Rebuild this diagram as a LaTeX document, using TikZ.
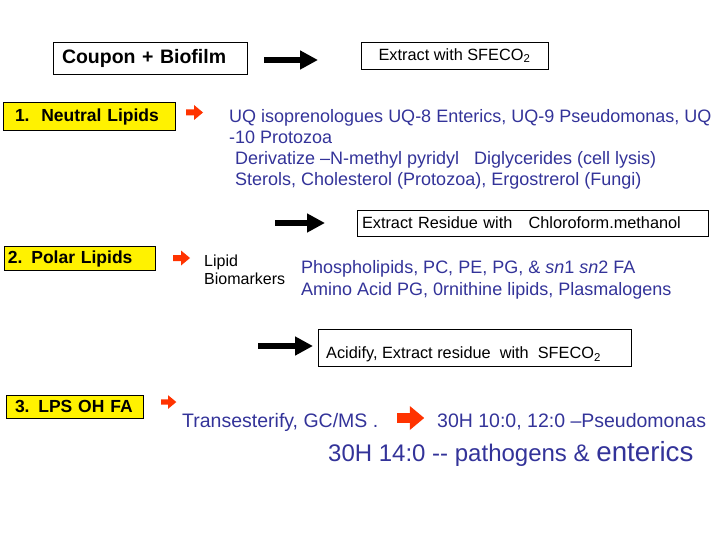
\documentclass[tikz,border=0pt]{standalone}
\usepackage{fontspec}
\setmainfont{Liberation Sans}
\usepackage{xcolor}
\usetikzlibrary{arrows.meta,positioning}

\definecolor{slideblue}{RGB}{51,51,153}
\definecolor{slidered}{RGB}{255,51,0}

\tikzset{
  stepbox/.style={draw, rectangle, fill=white, line width=0.8pt, inner ysep=0pt, align=left, font=\fontsize{16.3}{18}\selectfont},
  lipidbox/.style={draw, rectangle, fill=yellow, line width=0.8pt, inner ysep=0pt, align=left, font=\bfseries\fontsize{17.5}{20}\selectfont},
  bigarrow/.style={line width=6pt, -{Triangle[length=18pt,width=18pt]}},
  bluetext/.style={text=slideblue, inner sep=0pt, anchor=base west, font=\fontsize{18}{21}\selectfont},
  plaintext/.style={inner sep=0pt, anchor=base west, font=\fontsize{16}{18}\selectfont},
  redarr/.pic={\fill[slidered] (0,-3) -- (8,-3) -- (8,-7.5) -- (17,0) -- (8,7.5) -- (8,3) -- (0,3) -- cycle;}
}

\begin{document}
\begin{tikzpicture}[x=1pt, y=-1pt]
    \useasboundingbox (0,0) rectangle (720,540);

    % extraction steps
    \node[stepbox, font=\bfseries\fontsize{19.5}{22}\selectfont, text width=176pt, inner xsep=9pt, minimum height=32pt] (coupon) at (150,58) {Coupon + Biofilm};
    \node[stepbox, minimum width=187pt, minimum height=27pt] (sfe) at (454.5,55.5) {Extract with SFECO\textsubscript{2}};
    \node[stepbox, text width=341pt, inner xsep=5pt, minimum height=26pt] (residue) at (532.5,223) {Extract Residue with\ \ \ Chloroform.methanol};
    \node[stepbox, minimum width=313pt, minimum height=37pt] (acidify) at (474.5,347.5) {};
    \node[plaintext, font=\fontsize{16.3}{18}\selectfont] (acidtext) at (326,358.5) {Acidify, Extract residue\ \ with\ \ SFECO\textsubscript{2}};

    % lipid classes
    \node[lipidbox, text width=148pt, inner xsep=12pt, minimum height=28pt] (neutral) at (89,116.5) {1.\ \ Neutral Lipids};
    \node[lipidbox, text width=143pt, inner xsep=4pt, minimum height=24pt] (polar) at (79.5,258.5) {2. Polar Lipids};
    \node[lipidbox, text width=119pt, inner xsep=9pt, minimum height=23pt] (lps) at (74.5,406.5) {3. LPS OH FA};

    % black arrows
    \coordinate (a1s) at (264,60);
    \coordinate (a1e) at (318,60);
    \coordinate (a2s) at (275,223);
    \coordinate (a2e) at (325,223);
    \coordinate (a3s) at (258,346);
    \coordinate (a3e) at (313,346);
    \draw[bigarrow] (a1s) -- (a1e);
    \draw[bigarrow] (a2s) -- (a2e);
    \draw[bigarrow] (a3s) -- (a3e);

    % red bullets
    \pic at (186,112.5) {redarr};
    \pic at (173,258) {redarr};
    \pic[scale=0.9] at (161,402) {redarr};
    \pic[scale=1.6] at (397,418) {redarr};

    % neutral lipids
    \node[bluetext] (uq1) at (229,122.5) {UQ isoprenologues UQ-8 Enterics, UQ-9 Pseudomonas, UQ};
    \node[bluetext] (uq2) at (229,143.5) {-10 Protozoa};
    \node[bluetext] (deriv) at (235,164.5) {Derivatize \textendash N-methyl pyridyl\ \ \ Diglycerides (cell lysis)};
    \node[bluetext] (sterol) at (235,185.5) {Sterols, Cholesterol (Protozoa), Ergostrerol (Fungi)};

    % polar lipids
    \node[plaintext] (lipid) at (204,266) {Lipid};
    \node[plaintext] (biomark) at (204,284) {Biomarkers};
    \node[bluetext] (phospho) at (301,273.5) {Phospholipids, PC, PE, PG, \& \textit{sn}1 \textit{sn}2 FA};
    \node[bluetext] (amino) at (301,295.5) {Amino Acid PG, 0rnithine lipids, Plasmalogens};

    % LPS
    \node[bluetext, font=\fontsize{19.5}{22}\selectfont] (trans) at (182,427) {Transesterify, GC/MS .};
    \node[bluetext, font=\fontsize{19.5}{22}\selectfont] (pseudo) at (437,427) {30H 10:0, 12:0 \textendash Pseudomonas};
    \node[bluetext, font=\fontsize{24}{26}\selectfont] (patho) at (328,461) {30H 14:0 -{}- pathogens \& {\fontsize{27.7}{30}\selectfont enterics}};
\end{tikzpicture}
\end{document}
